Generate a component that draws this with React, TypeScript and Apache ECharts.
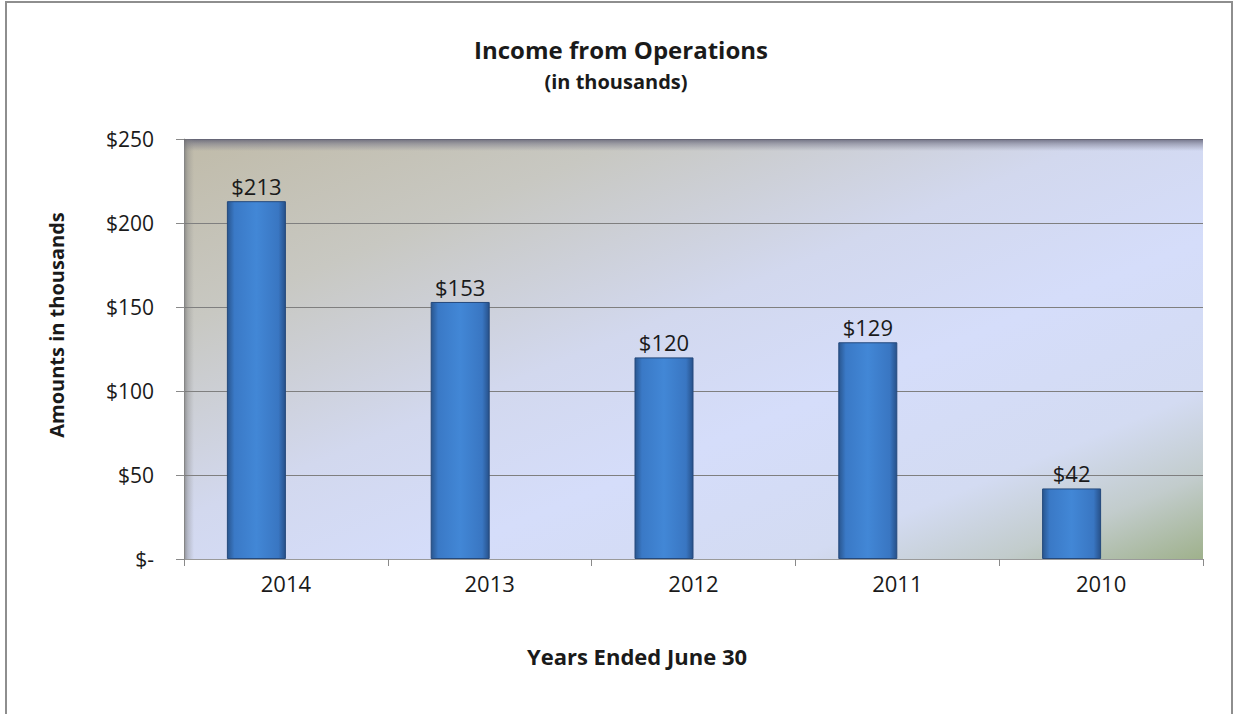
import React, { useEffect, useRef } from "react";
import * as echarts from "echarts";

const years = ["2014", "2013", "2012", "2011", "2010"];
const income = [213, 153, 120, 129, 42];
const emptySeries = [null, null, null, null, null];
const titleText = "Income from Operations";
const subtitleText = "(in thousands)";
const yAxisTitle = "Amounts in thousands";
const xAxisTitle = "Years Ended June 30";

const FONT = "'Open Sans', Lato, sans-serif";

export default function App() {
  const ref = useRef<HTMLDivElement>(null);
  useEffect(() => {
    if (!ref.current) return;
    const chart = echarts.init(ref.current, null, { renderer: "svg" });
    const gridL = 184, gridT = 139, gridR = 30, gridB = 155;
    const plotW = 1233 - gridL - gridR;
    const plotH = 714 - gridT - gridB;
    const barFill = {
      type: "linear", x: 0, y: 0, x2: 1, y2: 0,
      colorStops: [
        { offset: 0, color: "#29568f" },
        { offset: 0.12, color: "#3a79c6" },
        { offset: 0.5, color: "#4287d6" },
        { offset: 0.88, color: "#3976c2" },
        { offset: 1, color: "#27518a" },
      ],
    };
    chart.setOption({
      animation: false,
      backgroundColor: "#ffffff",
      textStyle: { fontFamily: FONT },
      title: [
        {
          text: titleText, left: 616, top: 32, textAlign: "center",
          textStyle: { fontFamily: FONT, fontWeight: "bold", fontSize: 24, color: "#1a1a1a" },
        },
        {
          text: subtitleText, left: 611, top: 66, textAlign: "center",
          textStyle: { fontFamily: FONT, fontWeight: "bold", fontSize: 20, color: "#1a1a1a" },
        },
        {
          text: xAxisTitle, left: 632, top: 640, textAlign: "center",
          textStyle: { fontFamily: FONT, fontWeight: "bold", fontSize: 22, color: "#1a1a1a" },
        },
      ],
      grid: {
        left: gridL, right: gridR, top: gridT, bottom: gridB,
        show: true, borderWidth: 0,
        backgroundColor: {
          type: "linear", x: 0, y: 0, x2: 1, y2: 1,
          colorStops: [
            { offset: 0, color: "#c0bba9" },
            { offset: 0.22, color: "#c8c8c2" },
            { offset: 0.45, color: "#d2d8ee" },
            { offset: 0.62, color: "#d5ddfa" },
            { offset: 0.8, color: "#d3dbf2" },
            { offset: 0.9, color: "#c2cccc" },
            { offset: 1, color: "#9fb18c" },
          ],
        },
      },
      graphic: [
        {
          type: "rect", z: 10, silent: true,
          shape: { x: 6, y: 2, width: 1226, height: 722 },
          style: { fill: "none", stroke: "#8e8e8e", lineWidth: 2 },
        },
        {
          type: "text", z: 10, x: 56, y: 325, rotation: Math.PI / 2,
          style: {
            text: yAxisTitle, fontFamily: FONT, fontWeight: "bold", fontSize: 20,
            fill: "#1a1a1a", align: "center", verticalAlign: "middle",
          },
        },
        {
          type: "rect", z: 1, silent: true,
          shape: { x: gridL, y: gridT, width: plotW, height: 12 },
          style: {
            fill: {
              type: "linear", x: 0, y: 0, x2: 0, y2: 1,
              colorStops: [
                { offset: 0, color: "rgba(95,95,115,0.85)" },
                { offset: 0.4, color: "rgba(110,110,130,0.5)" },
                { offset: 1, color: "rgba(120,120,140,0)" },
              ],
            },
          },
        },
        {
          type: "rect", z: 1, silent: true,
          shape: { x: gridL, y: gridT, width: 10, height: plotH },
          style: {
            fill: {
              type: "linear", x: 0, y: 0, x2: 1, y2: 0,
              colorStops: [
                { offset: 0, color: "rgba(110,110,110,0.7)" },
                { offset: 0.4, color: "rgba(130,130,130,0.35)" },
                { offset: 1, color: "rgba(140,140,140,0)" },
              ],
            },
          },
        },
      ],
      xAxis: {
        type: "category",
        data: years,
        boundaryGap: true,
        axisLine: { show: true, lineStyle: { color: "#9a9a9a", width: 1 } },
        axisTick: { show: true, alignWithLabel: false, length: 7, lineStyle: { color: "#8a8a8a" } },
        axisLabel: { color: "#1a1a1a", fontFamily: FONT, fontSize: 22, margin: 13 },
        splitLine: { show: false },
      },
      yAxis: {
        type: "value",
        min: 0, max: 250, interval: 50,
        axisLine: { show: true, lineStyle: { color: "#b0b0b0", width: 1 } },
        axisTick: { show: true, length: 8, lineStyle: { color: "#8a8a8a" } },
        axisLabel: {
          color: "#1a1a1a", fontFamily: FONT, fontSize: 21, margin: 30,
          formatter: (v: number) => (v === 0 ? "$-" : "$" + v),
        },
        splitLine: { show: true, lineStyle: { color: "#7f7f7f", width: 1 } },
      },
      series: [
        {
          type: "bar",
          name: "Income",
          data: income,
          barWidth: 59,
          barGap: "0%",
          z: 3,
          itemStyle: { color: barFill, borderColor: "#24497c", borderWidth: 1 },
          label: {
            show: true, position: "top", distance: 4,
            fontFamily: FONT, fontSize: 22, color: "#1a1a1a",
            formatter: (p: any) => "$" + p.value,
          },
        },
        {
          type: "bar",
          name: "Empty",
          data: emptySeries,
          barWidth: 59,
          barGap: "0%",
        },
      ],
    });
    return () => chart.dispose();
  }, []);
  return (
    <div
      ref={ref}
      style={{ position: "fixed", left: 0, top: 0, width: 1233, height: 714 }}
    />
  );
}
